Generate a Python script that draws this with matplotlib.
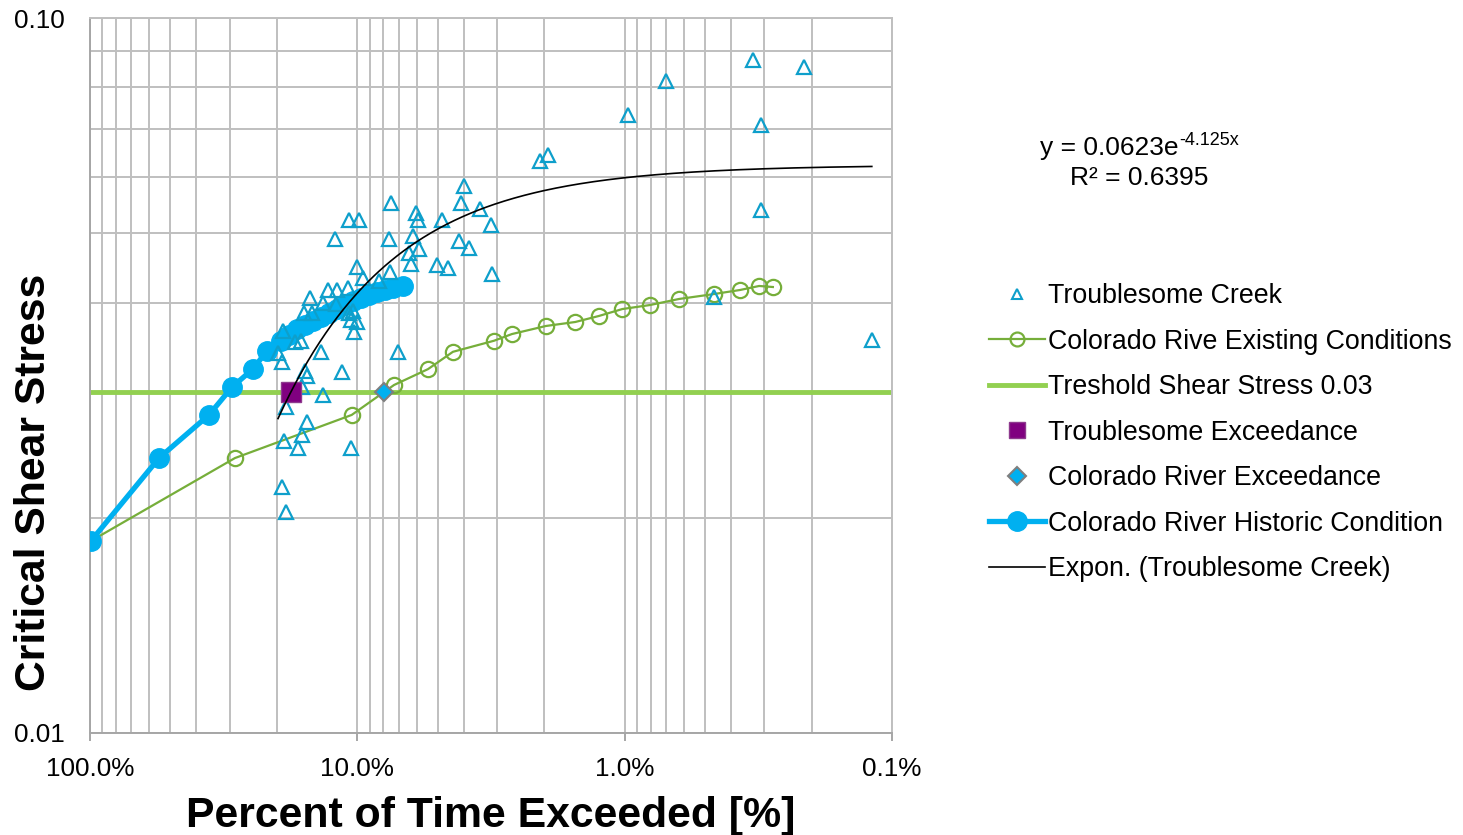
import matplotlib
matplotlib.use("Agg")
import matplotlib.pyplot as plt
import numpy as np
from matplotlib.lines import Line2D
from matplotlib.ticker import FixedLocator, LogLocator, NullFormatter

plt.rcParams['font.family'] = ['Liberation Sans', 'DejaVu Sans']

# Troublesome Creek: percent of time exceeded (%) vs critical shear stress
tc_pct = [0.331, 0.213, 0.700, 0.970, 0.309, 2.07, 1.93, 3.99, 4.09, 3.48,
          0.309, 4.82, 3.16, 4.16, 3.82, 5.03, 4.58, 3.13, 0.463, 0.119,
          7.48, 10.7, 9.85, 12.1, 7.61, 6.03, 5.93, 6.19, 5.88, 6.41,
          6.30, 7.04, 10.0, 9.52, 7.55, 8.29, 12.9, 11.9, 10.8, 15.0,
          13.4, 12.0, 15.8, 14.8, 10.7, 10.4, 10.6, 10.0, 10.3, 19.0,
          17.1, 16.2, 13.7, 19.8, 19.1, 15.7, 15.4, 11.4, 16.1, 13.4,
          18.5, 15.4, 16.1, 18.8, 16.7, 10.6, 19.1, 18.5]
tc_tau = [0.0874, 0.0854, 0.0816, 0.0732, 0.0709, 0.0631, 0.0643, 0.0582, 0.0551, 0.0541,
          0.0539, 0.0522, 0.0514, 0.0488, 0.0477, 0.0451, 0.0447, 0.0439, 0.0407, 0.0355,
          0.0551, 0.0522, 0.0522, 0.0491, 0.0491, 0.0534, 0.0522, 0.0496, 0.0475, 0.0469,
          0.0453, 0.0341, 0.0449, 0.0433, 0.0441, 0.0429, 0.0417, 0.0417, 0.0419, 0.0406,
          0.0399, 0.0398, 0.0387, 0.0387, 0.0387, 0.0389, 0.0378, 0.0376, 0.0364, 0.0365,
          0.0352, 0.0353, 0.0341, 0.0340, 0.0330, 0.0321, 0.0316, 0.0320, 0.0305, 0.0297,
          0.0286, 0.0272, 0.0261, 0.0256, 0.0250, 0.0250, 0.0221, 0.0204]

# Colorado River, existing conditions
cr_exist_pct = [99.2, 28.7, 10.5, 7.29, 5.44, 4.39, 3.08, 2.64, 1.97, 1.53,
                1.25, 1.02, 0.804, 0.626, 0.463, 0.370, 0.314, 0.279]
cr_exist_tau = [0.01856, 0.02424, 0.02785, 0.03067, 0.03228, 0.03413, 0.03537, 0.03614, 0.03709, 0.03757,
                0.03830, 0.03917, 0.03968, 0.04046, 0.04111, 0.04165, 0.04219, 0.04205]

# Colorado River, historic condition
cr_hist_pct = [99.2, 55.2, 35.9, 29.4, 24.6, 21.8, 19.3, 18.0, 16.8, 15.7, 14.6,
               13.7, 12.8, 11.9, 11.1, 10.4, 9.69, 9.04, 8.44, 7.88, 7.35, 6.75]
cr_hist_tau = [0.01856, 0.02424, 0.02785, 0.03047, 0.03228, 0.03421, 0.03533, 0.03603, 0.03673, 0.03721, 0.03770,
               0.03819, 0.03868, 0.03917, 0.03968, 0.04020, 0.04059, 0.04099, 0.04139, 0.04165, 0.04192, 0.04219]

threshold_tau = 0.03
threshold_pct = [100.0, 0.1]
tb_exceed_pct = 17.7
cr_exceed_pct = 7.95

# exponential trendline for Troublesome Creek (x as a fraction)
trend_a = 0.0623
trend_b = -4.125
trend_r2 = 0.6395

x_ticks = [1.0, 0.1, 0.01, 0.001]
x_ticklabels = ["100.0%", "10.0%", "1.0%", "0.1%"]
y_ticks = [0.01, 0.10]
y_ticklabels = ["0.01", "0.10"]

c_tc = '#0E9FCB'
c_exist = '#76AE3A'
c_thresh = '#92D050'
c_hist = '#00B0F0'
c_purple = '#800080'
grid_c = '#BFBFBF'

fig = plt.figure(figsize=(14.63, 8.35), dpi=100)
ax = fig.add_axes([90/1463, 1 - 733/835, 802/1463, 715/835])

to_frac = lambda v: np.asarray(v) / 100.0

ax.plot(to_frac(threshold_pct), [threshold_tau]*2, color=c_thresh, lw=3.5, zorder=2,
        solid_capstyle='butt')
ax.plot(to_frac(cr_exist_pct), cr_exist_tau, color=c_exist, lw=1.6, marker='o', ms=11,
        mfc='none', mec=c_exist, mew=1.6, zorder=3)
ax.plot(to_frac(cr_hist_pct), cr_hist_tau, color=c_hist, lw=3.8, marker='o', ms=14,
        mfc=c_hist, mec=c_hist, zorder=3.5)
ax.plot(to_frac(tc_pct), tc_tau, ls='none', marker='^', ms=9.5, mfc='none', mec=c_tc,
        mew=1.6, zorder=4)
ax.plot(to_frac([tb_exceed_pct]), [threshold_tau], ls='none', marker='s', ms=14,
        mfc=c_purple, mec='#8E3A8E', mew=1, zorder=5)
ax.plot(to_frac([cr_exceed_pct]), [threshold_tau], ls='none', marker='D', ms=9.5,
        mfc=c_hist, mec='#7F7F7F', mew=1.5, zorder=5)

tx = np.geomspace(to_frac(min(tc_pct)), to_frac(max(tc_pct)), 300)
ax.plot(tx, trend_a * np.exp(trend_b * tx), color='black', lw=1.2, zorder=6)

ax.set_xscale('log')
ax.set_yscale('log')
ax.set_xlim(1.0, 0.001)
ax.set_ylim(0.01, 0.10)

ax.xaxis.set_major_locator(FixedLocator(x_ticks))
ax.set_xticklabels(x_ticklabels)
ax.xaxis.set_minor_locator(LogLocator(base=10, subs=np.arange(2, 10)))
ax.xaxis.set_minor_formatter(NullFormatter())
ax.yaxis.set_major_locator(FixedLocator(y_ticks))
ax.set_yticklabels(y_ticklabels)
ax.yaxis.set_minor_locator(LogLocator(base=10, subs=np.arange(2, 10)))
ax.yaxis.set_minor_formatter(NullFormatter())

ax.grid(True, which='both', color=grid_c, lw=1.4)
ax.set_axisbelow(True)
for s in ax.spines.values():
    s.set_color(grid_c)
    s.set_linewidth(1.4)
ax.spines['bottom'].set_color('#A6A6A6')
ax.spines['left'].set_color('#A6A6A6')
ax.tick_params(axis='x', which='major', length=6, color='#A6A6A6', width=1.4,
               labelsize=18.8, pad=11)
ax.tick_params(axis='y', which='major', length=0, labelsize=18.8, pad=18)
ax.tick_params(which='minor', length=0)

ax.set_xlabel("Percent of Time Exceeded [%]", fontsize=30.8, fontweight='bold')
ax.xaxis.set_label_coords(0.5, -0.088)
ax.set_ylabel("Critical Shear Stress", fontsize=30.7, fontweight='bold')
ax.yaxis.set_label_coords(-0.045, 0.351)

# trendline equation
fig.text(1040/1463, 1 - 155/835, "y = 0.0623e", fontsize=19, ha='left', va='baseline')
fig.text(1179/1463, 1 - 145/835, "-4.125x", fontsize=13, ha='left', va='baseline')
fig.text(1070/1463, 1 - 185/835, "R\u00b2 = %.4f" % trend_r2, fontsize=19, ha='left', va='baseline')

handles = [
    Line2D([], [], ls='none', marker='^', ms=7.5, mfc='none', mec=c_tc, mew=1.5),
    Line2D([], [], color=c_exist, lw=1.6, marker='o', ms=10, mfc='none', mec=c_exist, mew=1.6),
    Line2D([], [], color=c_thresh, lw=3.5),
    Line2D([], [], ls='none', marker='s', ms=12, mfc=c_purple, mec='#8E3A8E'),
    Line2D([], [], ls='none', marker='D', ms=9, mfc=c_hist, mec='#7F7F7F', mew=1.5),
    Line2D([], [], color=c_hist, lw=3.8, marker='o', ms=14, mfc=c_hist, mec=c_hist),
    Line2D([], [], color='black', lw=1.2),
]
labels = ["Troublesome Creek", "Colorado Rive Existing Conditions",
          "Treshold Shear Stress 0.03", "Troublesome Exceedance",
          "Colorado River Exceedance", "Colorado River Historic Condition",
          "Expon. (Troublesome Creek)"]
fig.legend(handles, labels, loc='upper left', bbox_to_anchor=(989/1463, 1 - 283/835),
           frameon=False, fontsize=19.25, handlelength=2.1, handletextpad=0.1,
           labelspacing=0.73, borderpad=0, borderaxespad=0)

fig.savefig("out.png", dpi=100)
